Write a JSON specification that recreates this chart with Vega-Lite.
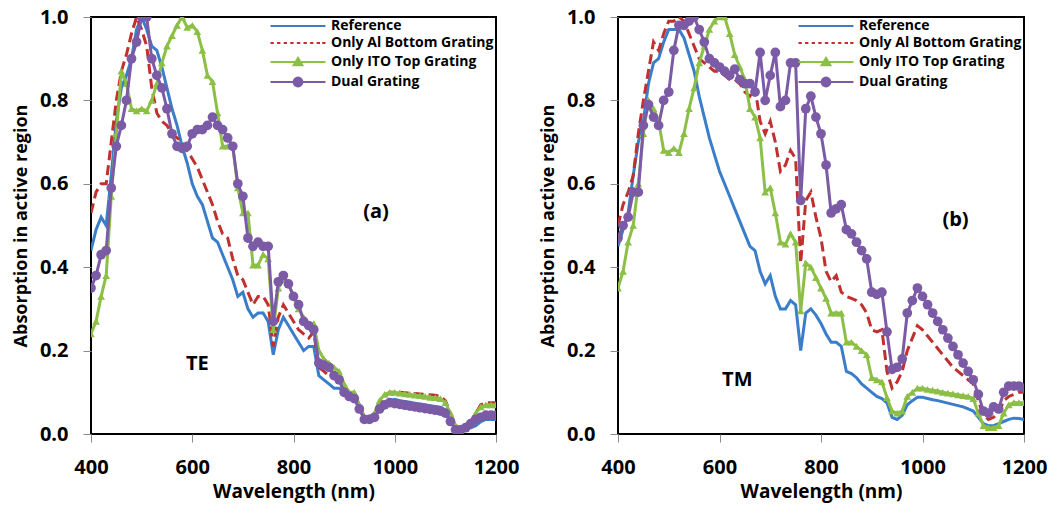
{
"$schema": "https://vega.github.io/schema/vega-lite/v6.json",
"background": "white",
"padding": {"left": 11, "top": 6, "right": 10, "bottom": 2},
"datasets": {
"te": [
{"s":"Reference","w":400,"a":0.44},{"s":"Reference","w":410,"a":0.49},{"s":"Reference","w":420,"a":0.52},{"s":"Reference","w":430,"a":0.50},{"s":"Reference","w":440,"a":0.62},{"s":"Reference","w":450,"a":0.75},{"s":"Reference","w":460,"a":0.83},{"s":"Reference","w":470,"a":0.86},{"s":"Reference","w":480,"a":0.90},{"s":"Reference","w":490,"a":0.97},{"s":"Reference","w":500,"a":1.0},{"s":"Reference","w":510,"a":0.97},{"s":"Reference","w":520,"a":0.93},{"s":"Reference","w":530,"a":0.92},{"s":"Reference","w":540,"a":0.88},{"s":"Reference","w":550,"a":0.83},{"s":"Reference","w":560,"a":0.78},{"s":"Reference","w":570,"a":0.74},{"s":"Reference","w":580,"a":0.69},{"s":"Reference","w":590,"a":0.65},{"s":"Reference","w":600,"a":0.60},{"s":"Reference","w":610,"a":0.57},{"s":"Reference","w":620,"a":0.55},{"s":"Reference","w":630,"a":0.51},{"s":"Reference","w":640,"a":0.47},{"s":"Reference","w":650,"a":0.46},{"s":"Reference","w":660,"a":0.43},{"s":"Reference","w":670,"a":0.40},{"s":"Reference","w":680,"a":0.37},{"s":"Reference","w":690,"a":0.33},{"s":"Reference","w":700,"a":0.34},{"s":"Reference","w":710,"a":0.30},{"s":"Reference","w":720,"a":0.28},{"s":"Reference","w":730,"a":0.29},{"s":"Reference","w":740,"a":0.29},{"s":"Reference","w":750,"a":0.27},{"s":"Reference","w":760,"a":0.19},{"s":"Reference","w":770,"a":0.25},{"s":"Reference","w":780,"a":0.28},{"s":"Reference","w":790,"a":0.26},{"s":"Reference","w":800,"a":0.24},{"s":"Reference","w":810,"a":0.22},{"s":"Reference","w":820,"a":0.20},{"s":"Reference","w":830,"a":0.21},{"s":"Reference","w":840,"a":0.21},{"s":"Reference","w":850,"a":0.14},{"s":"Reference","w":860,"a":0.13},{"s":"Reference","w":870,"a":0.12},{"s":"Reference","w":880,"a":0.11},{"s":"Reference","w":890,"a":0.11},{"s":"Reference","w":900,"a":0.10},{"s":"Reference","w":910,"a":0.09},{"s":"Reference","w":920,"a":0.085},{"s":"Reference","w":930,"a":0.07},{"s":"Reference","w":940,"a":0.04},{"s":"Reference","w":950,"a":0.035},{"s":"Reference","w":960,"a":0.04},{"s":"Reference","w":970,"a":0.06},{"s":"Reference","w":980,"a":0.075},{"s":"Reference","w":990,"a":0.08},{"s":"Reference","w":1000,"a":0.083},{"s":"Reference","w":1010,"a":0.08},{"s":"Reference","w":1020,"a":0.078},{"s":"Reference","w":1030,"a":0.076},{"s":"Reference","w":1040,"a":0.074},{"s":"Reference","w":1050,"a":0.072},{"s":"Reference","w":1060,"a":0.07},{"s":"Reference","w":1070,"a":0.068},{"s":"Reference","w":1080,"a":0.066},{"s":"Reference","w":1090,"a":0.064},{"s":"Reference","w":1100,"a":0.058},{"s":"Reference","w":1110,"a":0.04},{"s":"Reference","w":1120,"a":0.015},{"s":"Reference","w":1130,"a":0.01},{"s":"Reference","w":1140,"a":0.012},{"s":"Reference","w":1150,"a":0.015},{"s":"Reference","w":1160,"a":0.02},{"s":"Reference","w":1170,"a":0.03},{"s":"Reference","w":1180,"a":0.035},{"s":"Reference","w":1190,"a":0.035},{"s":"Reference","w":1200,"a":0.035},
{"s":"Only Al Bottom Grating","w":400,"a":0.53},{"s":"Only Al Bottom Grating","w":410,"a":0.58},{"s":"Only Al Bottom Grating","w":420,"a":0.60},{"s":"Only Al Bottom Grating","w":430,"a":0.60},{"s":"Only Al Bottom Grating","w":440,"a":0.70},{"s":"Only Al Bottom Grating","w":450,"a":0.80},{"s":"Only Al Bottom Grating","w":460,"a":0.87},{"s":"Only Al Bottom Grating","w":470,"a":0.91},{"s":"Only Al Bottom Grating","w":480,"a":0.96},{"s":"Only Al Bottom Grating","w":490,"a":1.0},{"s":"Only Al Bottom Grating","w":500,"a":0.97},{"s":"Only Al Bottom Grating","w":510,"a":0.93},{"s":"Only Al Bottom Grating","w":520,"a":0.83},{"s":"Only Al Bottom Grating","w":530,"a":0.77},{"s":"Only Al Bottom Grating","w":540,"a":0.75},{"s":"Only Al Bottom Grating","w":550,"a":0.74},{"s":"Only Al Bottom Grating","w":560,"a":0.72},{"s":"Only Al Bottom Grating","w":570,"a":0.71},{"s":"Only Al Bottom Grating","w":580,"a":0.70},{"s":"Only Al Bottom Grating","w":590,"a":0.68},{"s":"Only Al Bottom Grating","w":600,"a":0.66},{"s":"Only Al Bottom Grating","w":610,"a":0.64},{"s":"Only Al Bottom Grating","w":620,"a":0.61},{"s":"Only Al Bottom Grating","w":630,"a":0.58},{"s":"Only Al Bottom Grating","w":640,"a":0.55},{"s":"Only Al Bottom Grating","w":650,"a":0.51},{"s":"Only Al Bottom Grating","w":660,"a":0.48},{"s":"Only Al Bottom Grating","w":670,"a":0.47},{"s":"Only Al Bottom Grating","w":680,"a":0.42},{"s":"Only Al Bottom Grating","w":690,"a":0.38},{"s":"Only Al Bottom Grating","w":700,"a":0.37},{"s":"Only Al Bottom Grating","w":710,"a":0.34},{"s":"Only Al Bottom Grating","w":720,"a":0.31},{"s":"Only Al Bottom Grating","w":730,"a":0.33},{"s":"Only Al Bottom Grating","w":740,"a":0.33},{"s":"Only Al Bottom Grating","w":750,"a":0.31},{"s":"Only Al Bottom Grating","w":760,"a":0.21},{"s":"Only Al Bottom Grating","w":770,"a":0.28},{"s":"Only Al Bottom Grating","w":780,"a":0.31},{"s":"Only Al Bottom Grating","w":790,"a":0.29},{"s":"Only Al Bottom Grating","w":800,"a":0.27},{"s":"Only Al Bottom Grating","w":810,"a":0.25},{"s":"Only Al Bottom Grating","w":820,"a":0.24},{"s":"Only Al Bottom Grating","w":830,"a":0.23},{"s":"Only Al Bottom Grating","w":840,"a":0.245},{"s":"Only Al Bottom Grating","w":850,"a":0.16},{"s":"Only Al Bottom Grating","w":860,"a":0.15},{"s":"Only Al Bottom Grating","w":870,"a":0.14},{"s":"Only Al Bottom Grating","w":880,"a":0.14},{"s":"Only Al Bottom Grating","w":890,"a":0.12},{"s":"Only Al Bottom Grating","w":900,"a":0.11},{"s":"Only Al Bottom Grating","w":910,"a":0.10},{"s":"Only Al Bottom Grating","w":920,"a":0.095},{"s":"Only Al Bottom Grating","w":930,"a":0.07},{"s":"Only Al Bottom Grating","w":940,"a":0.04},{"s":"Only Al Bottom Grating","w":950,"a":0.035},{"s":"Only Al Bottom Grating","w":960,"a":0.045},{"s":"Only Al Bottom Grating","w":970,"a":0.07},{"s":"Only Al Bottom Grating","w":980,"a":0.09},{"s":"Only Al Bottom Grating","w":990,"a":0.10},{"s":"Only Al Bottom Grating","w":1000,"a":0.10},{"s":"Only Al Bottom Grating","w":1010,"a":0.10},{"s":"Only Al Bottom Grating","w":1020,"a":0.099},{"s":"Only Al Bottom Grating","w":1030,"a":0.098},{"s":"Only Al Bottom Grating","w":1040,"a":0.097},{"s":"Only Al Bottom Grating","w":1050,"a":0.096},{"s":"Only Al Bottom Grating","w":1060,"a":0.095},{"s":"Only Al Bottom Grating","w":1070,"a":0.094},{"s":"Only Al Bottom Grating","w":1080,"a":0.093},{"s":"Only Al Bottom Grating","w":1090,"a":0.09},{"s":"Only Al Bottom Grating","w":1100,"a":0.08},{"s":"Only Al Bottom Grating","w":1110,"a":0.05},{"s":"Only Al Bottom Grating","w":1120,"a":0.02},{"s":"Only Al Bottom Grating","w":1130,"a":0.015},{"s":"Only Al Bottom Grating","w":1140,"a":0.02},{"s":"Only Al Bottom Grating","w":1150,"a":0.03},{"s":"Only Al Bottom Grating","w":1160,"a":0.05},{"s":"Only Al Bottom Grating","w":1170,"a":0.07},{"s":"Only Al Bottom Grating","w":1180,"a":0.075},{"s":"Only Al Bottom Grating","w":1190,"a":0.075},{"s":"Only Al Bottom Grating","w":1200,"a":0.075},
{"s":"Only ITO Top Grating","w":400,"a":0.24},{"s":"Only ITO Top Grating","w":410,"a":0.27},{"s":"Only ITO Top Grating","w":420,"a":0.33},{"s":"Only ITO Top Grating","w":430,"a":0.38},{"s":"Only ITO Top Grating","w":440,"a":0.57},{"s":"Only ITO Top Grating","w":450,"a":0.72},{"s":"Only ITO Top Grating","w":460,"a":0.87},{"s":"Only ITO Top Grating","w":470,"a":0.84},{"s":"Only ITO Top Grating","w":480,"a":0.78},{"s":"Only ITO Top Grating","w":490,"a":0.775},{"s":"Only ITO Top Grating","w":500,"a":0.78},{"s":"Only ITO Top Grating","w":510,"a":0.775},{"s":"Only ITO Top Grating","w":520,"a":0.80},{"s":"Only ITO Top Grating","w":530,"a":0.84},{"s":"Only ITO Top Grating","w":540,"a":0.89},{"s":"Only ITO Top Grating","w":550,"a":0.93},{"s":"Only ITO Top Grating","w":560,"a":0.955},{"s":"Only ITO Top Grating","w":570,"a":0.98},{"s":"Only ITO Top Grating","w":580,"a":1.0},{"s":"Only ITO Top Grating","w":590,"a":0.975},{"s":"Only ITO Top Grating","w":600,"a":0.98},{"s":"Only ITO Top Grating","w":610,"a":0.965},{"s":"Only ITO Top Grating","w":620,"a":0.92},{"s":"Only ITO Top Grating","w":630,"a":0.86},{"s":"Only ITO Top Grating","w":640,"a":0.845},{"s":"Only ITO Top Grating","w":650,"a":0.77},{"s":"Only ITO Top Grating","w":660,"a":0.69},{"s":"Only ITO Top Grating","w":670,"a":0.69},{"s":"Only ITO Top Grating","w":680,"a":0.69},{"s":"Only ITO Top Grating","w":690,"a":0.59},{"s":"Only ITO Top Grating","w":700,"a":0.53},{"s":"Only ITO Top Grating","w":710,"a":0.53},{"s":"Only ITO Top Grating","w":720,"a":0.405},{"s":"Only ITO Top Grating","w":730,"a":0.405},{"s":"Only ITO Top Grating","w":740,"a":0.43},{"s":"Only ITO Top Grating","w":750,"a":0.42},{"s":"Only ITO Top Grating","w":760,"a":0.25},{"s":"Only ITO Top Grating","w":770,"a":0.35},{"s":"Only ITO Top Grating","w":780,"a":0.37},{"s":"Only ITO Top Grating","w":790,"a":0.36},{"s":"Only ITO Top Grating","w":800,"a":0.33},{"s":"Only ITO Top Grating","w":810,"a":0.30},{"s":"Only ITO Top Grating","w":820,"a":0.28},{"s":"Only ITO Top Grating","w":830,"a":0.26},{"s":"Only ITO Top Grating","w":840,"a":0.265},{"s":"Only ITO Top Grating","w":850,"a":0.20},{"s":"Only ITO Top Grating","w":860,"a":0.18},{"s":"Only ITO Top Grating","w":870,"a":0.17},{"s":"Only ITO Top Grating","w":880,"a":0.16},{"s":"Only ITO Top Grating","w":890,"a":0.15},{"s":"Only ITO Top Grating","w":900,"a":0.12},{"s":"Only ITO Top Grating","w":910,"a":0.10},{"s":"Only ITO Top Grating","w":920,"a":0.10},{"s":"Only ITO Top Grating","w":930,"a":0.07},{"s":"Only ITO Top Grating","w":940,"a":0.04},{"s":"Only ITO Top Grating","w":950,"a":0.04},{"s":"Only ITO Top Grating","w":960,"a":0.05},{"s":"Only ITO Top Grating","w":970,"a":0.08},{"s":"Only ITO Top Grating","w":980,"a":0.095},{"s":"Only ITO Top Grating","w":990,"a":0.10},{"s":"Only ITO Top Grating","w":1000,"a":0.10},{"s":"Only ITO Top Grating","w":1010,"a":0.098},{"s":"Only ITO Top Grating","w":1020,"a":0.096},{"s":"Only ITO Top Grating","w":1030,"a":0.095},{"s":"Only ITO Top Grating","w":1040,"a":0.093},{"s":"Only ITO Top Grating","w":1050,"a":0.092},{"s":"Only ITO Top Grating","w":1060,"a":0.09},{"s":"Only ITO Top Grating","w":1070,"a":0.088},{"s":"Only ITO Top Grating","w":1080,"a":0.087},{"s":"Only ITO Top Grating","w":1090,"a":0.085},{"s":"Only ITO Top Grating","w":1100,"a":0.075},{"s":"Only ITO Top Grating","w":1110,"a":0.05},{"s":"Only ITO Top Grating","w":1120,"a":0.02},{"s":"Only ITO Top Grating","w":1130,"a":0.015},{"s":"Only ITO Top Grating","w":1140,"a":0.02},{"s":"Only ITO Top Grating","w":1150,"a":0.03},{"s":"Only ITO Top Grating","w":1160,"a":0.05},{"s":"Only ITO Top Grating","w":1170,"a":0.065},{"s":"Only ITO Top Grating","w":1180,"a":0.07},{"s":"Only ITO Top Grating","w":1190,"a":0.07},{"s":"Only ITO Top Grating","w":1200,"a":0.07},
{"s":"Dual Grating","w":400,"a":0.35},{"s":"Dual Grating","w":410,"a":0.38},{"s":"Dual Grating","w":420,"a":0.43},{"s":"Dual Grating","w":430,"a":0.44},{"s":"Dual Grating","w":440,"a":0.59},{"s":"Dual Grating","w":450,"a":0.69},{"s":"Dual Grating","w":460,"a":0.74},{"s":"Dual Grating","w":470,"a":0.80},{"s":"Dual Grating","w":480,"a":0.90},{"s":"Dual Grating","w":490,"a":0.94},{"s":"Dual Grating","w":500,"a":1.0},{"s":"Dual Grating","w":510,"a":1.0},{"s":"Dual Grating","w":520,"a":0.90},{"s":"Dual Grating","w":530,"a":0.86},{"s":"Dual Grating","w":540,"a":0.83},{"s":"Dual Grating","w":550,"a":0.78},{"s":"Dual Grating","w":560,"a":0.72},{"s":"Dual Grating","w":570,"a":0.69},{"s":"Dual Grating","w":580,"a":0.685},{"s":"Dual Grating","w":590,"a":0.69},{"s":"Dual Grating","w":600,"a":0.72},{"s":"Dual Grating","w":610,"a":0.73},{"s":"Dual Grating","w":620,"a":0.73},{"s":"Dual Grating","w":630,"a":0.74},{"s":"Dual Grating","w":640,"a":0.76},{"s":"Dual Grating","w":650,"a":0.74},{"s":"Dual Grating","w":660,"a":0.73},{"s":"Dual Grating","w":670,"a":0.71},{"s":"Dual Grating","w":680,"a":0.69},{"s":"Dual Grating","w":690,"a":0.60},{"s":"Dual Grating","w":700,"a":0.57},{"s":"Dual Grating","w":710,"a":0.47},{"s":"Dual Grating","w":720,"a":0.45},{"s":"Dual Grating","w":730,"a":0.46},{"s":"Dual Grating","w":740,"a":0.45},{"s":"Dual Grating","w":750,"a":0.45},{"s":"Dual Grating","w":760,"a":0.27},{"s":"Dual Grating","w":770,"a":0.365},{"s":"Dual Grating","w":780,"a":0.38},{"s":"Dual Grating","w":790,"a":0.36},{"s":"Dual Grating","w":800,"a":0.33},{"s":"Dual Grating","w":810,"a":0.31},{"s":"Dual Grating","w":820,"a":0.27},{"s":"Dual Grating","w":830,"a":0.26},{"s":"Dual Grating","w":840,"a":0.25},{"s":"Dual Grating","w":850,"a":0.17},{"s":"Dual Grating","w":860,"a":0.165},{"s":"Dual Grating","w":870,"a":0.16},{"s":"Dual Grating","w":880,"a":0.14},{"s":"Dual Grating","w":890,"a":0.13},{"s":"Dual Grating","w":900,"a":0.10},{"s":"Dual Grating","w":910,"a":0.09},{"s":"Dual Grating","w":920,"a":0.085},{"s":"Dual Grating","w":930,"a":0.06},{"s":"Dual Grating","w":940,"a":0.035},{"s":"Dual Grating","w":950,"a":0.035},{"s":"Dual Grating","w":960,"a":0.04},{"s":"Dual Grating","w":970,"a":0.06},{"s":"Dual Grating","w":980,"a":0.07},{"s":"Dual Grating","w":990,"a":0.075},{"s":"Dual Grating","w":1000,"a":0.073},{"s":"Dual Grating","w":1010,"a":0.071},{"s":"Dual Grating","w":1020,"a":0.069},{"s":"Dual Grating","w":1030,"a":0.067},{"s":"Dual Grating","w":1040,"a":0.065},{"s":"Dual Grating","w":1050,"a":0.063},{"s":"Dual Grating","w":1060,"a":0.061},{"s":"Dual Grating","w":1070,"a":0.059},{"s":"Dual Grating","w":1080,"a":0.057},{"s":"Dual Grating","w":1090,"a":0.055},{"s":"Dual Grating","w":1100,"a":0.05},{"s":"Dual Grating","w":1110,"a":0.03},{"s":"Dual Grating","w":1120,"a":0.01},{"s":"Dual Grating","w":1130,"a":0.01},{"s":"Dual Grating","w":1140,"a":0.015},{"s":"Dual Grating","w":1150,"a":0.025},{"s":"Dual Grating","w":1160,"a":0.035},{"s":"Dual Grating","w":1170,"a":0.04},{"s":"Dual Grating","w":1180,"a":0.045},{"s":"Dual Grating","w":1190,"a":0.045},{"s":"Dual Grating","w":1200,"a":0.045}
],
"tm": [
{"s":"Reference","w":400,"a":0.45},{"s":"Reference","w":410,"a":0.49},{"s":"Reference","w":420,"a":0.53},{"s":"Reference","w":430,"a":0.62},{"s":"Reference","w":440,"a":0.70},{"s":"Reference","w":450,"a":0.75},{"s":"Reference","w":460,"a":0.84},{"s":"Reference","w":470,"a":0.89},{"s":"Reference","w":480,"a":0.90},{"s":"Reference","w":490,"a":0.94},{"s":"Reference","w":500,"a":0.97},{"s":"Reference","w":510,"a":0.97},{"s":"Reference","w":520,"a":0.97},{"s":"Reference","w":530,"a":0.95},{"s":"Reference","w":540,"a":0.91},{"s":"Reference","w":550,"a":0.87},{"s":"Reference","w":560,"a":0.81},{"s":"Reference","w":570,"a":0.76},{"s":"Reference","w":580,"a":0.71},{"s":"Reference","w":590,"a":0.67},{"s":"Reference","w":600,"a":0.63},{"s":"Reference","w":610,"a":0.60},{"s":"Reference","w":620,"a":0.57},{"s":"Reference","w":630,"a":0.54},{"s":"Reference","w":640,"a":0.51},{"s":"Reference","w":650,"a":0.48},{"s":"Reference","w":660,"a":0.45},{"s":"Reference","w":670,"a":0.44},{"s":"Reference","w":680,"a":0.39},{"s":"Reference","w":690,"a":0.36},{"s":"Reference","w":700,"a":0.38},{"s":"Reference","w":710,"a":0.33},{"s":"Reference","w":720,"a":0.30},{"s":"Reference","w":730,"a":0.30},{"s":"Reference","w":740,"a":0.32},{"s":"Reference","w":750,"a":0.31},{"s":"Reference","w":760,"a":0.20},{"s":"Reference","w":770,"a":0.29},{"s":"Reference","w":780,"a":0.30},{"s":"Reference","w":790,"a":0.285},{"s":"Reference","w":800,"a":0.265},{"s":"Reference","w":810,"a":0.24},{"s":"Reference","w":820,"a":0.22},{"s":"Reference","w":830,"a":0.22},{"s":"Reference","w":840,"a":0.21},{"s":"Reference","w":850,"a":0.15},{"s":"Reference","w":860,"a":0.145},{"s":"Reference","w":870,"a":0.135},{"s":"Reference","w":880,"a":0.12},{"s":"Reference","w":890,"a":0.11},{"s":"Reference","w":900,"a":0.10},{"s":"Reference","w":910,"a":0.09},{"s":"Reference","w":920,"a":0.085},{"s":"Reference","w":930,"a":0.075},{"s":"Reference","w":940,"a":0.04},{"s":"Reference","w":950,"a":0.035},{"s":"Reference","w":960,"a":0.045},{"s":"Reference","w":970,"a":0.07},{"s":"Reference","w":980,"a":0.08},{"s":"Reference","w":990,"a":0.088},{"s":"Reference","w":1000,"a":0.088},{"s":"Reference","w":1010,"a":0.085},{"s":"Reference","w":1020,"a":0.082},{"s":"Reference","w":1030,"a":0.08},{"s":"Reference","w":1040,"a":0.077},{"s":"Reference","w":1050,"a":0.074},{"s":"Reference","w":1060,"a":0.071},{"s":"Reference","w":1070,"a":0.068},{"s":"Reference","w":1080,"a":0.065},{"s":"Reference","w":1090,"a":0.06},{"s":"Reference","w":1100,"a":0.055},{"s":"Reference","w":1110,"a":0.04},{"s":"Reference","w":1120,"a":0.025},{"s":"Reference","w":1130,"a":0.02},{"s":"Reference","w":1140,"a":0.02},{"s":"Reference","w":1150,"a":0.025},{"s":"Reference","w":1160,"a":0.03},{"s":"Reference","w":1170,"a":0.035},{"s":"Reference","w":1180,"a":0.038},{"s":"Reference","w":1190,"a":0.037},{"s":"Reference","w":1200,"a":0.035},
{"s":"Only Al Bottom Grating","w":400,"a":0.50},{"s":"Only Al Bottom Grating","w":410,"a":0.55},{"s":"Only Al Bottom Grating","w":420,"a":0.58},{"s":"Only Al Bottom Grating","w":430,"a":0.62},{"s":"Only Al Bottom Grating","w":440,"a":0.72},{"s":"Only Al Bottom Grating","w":450,"a":0.80},{"s":"Only Al Bottom Grating","w":460,"a":0.87},{"s":"Only Al Bottom Grating","w":470,"a":0.94},{"s":"Only Al Bottom Grating","w":480,"a":0.92},{"s":"Only Al Bottom Grating","w":490,"a":0.96},{"s":"Only Al Bottom Grating","w":500,"a":0.99},{"s":"Only Al Bottom Grating","w":510,"a":0.99},{"s":"Only Al Bottom Grating","w":520,"a":1.0},{"s":"Only Al Bottom Grating","w":530,"a":0.99},{"s":"Only Al Bottom Grating","w":540,"a":0.96},{"s":"Only Al Bottom Grating","w":550,"a":0.93},{"s":"Only Al Bottom Grating","w":560,"a":0.90},{"s":"Only Al Bottom Grating","w":570,"a":0.89},{"s":"Only Al Bottom Grating","w":580,"a":0.88},{"s":"Only Al Bottom Grating","w":590,"a":0.87},{"s":"Only Al Bottom Grating","w":600,"a":0.87},{"s":"Only Al Bottom Grating","w":610,"a":0.86},{"s":"Only Al Bottom Grating","w":620,"a":0.85},{"s":"Only Al Bottom Grating","w":630,"a":0.85},{"s":"Only Al Bottom Grating","w":640,"a":0.84},{"s":"Only Al Bottom Grating","w":650,"a":0.82},{"s":"Only Al Bottom Grating","w":660,"a":0.81},{"s":"Only Al Bottom Grating","w":670,"a":0.83},{"s":"Only Al Bottom Grating","w":680,"a":0.75},{"s":"Only Al Bottom Grating","w":690,"a":0.72},{"s":"Only Al Bottom Grating","w":700,"a":0.75},{"s":"Only Al Bottom Grating","w":710,"a":0.70},{"s":"Only Al Bottom Grating","w":720,"a":0.63},{"s":"Only Al Bottom Grating","w":730,"a":0.645},{"s":"Only Al Bottom Grating","w":740,"a":0.68},{"s":"Only Al Bottom Grating","w":750,"a":0.66},{"s":"Only Al Bottom Grating","w":760,"a":0.41},{"s":"Only Al Bottom Grating","w":770,"a":0.56},{"s":"Only Al Bottom Grating","w":780,"a":0.58},{"s":"Only Al Bottom Grating","w":790,"a":0.52},{"s":"Only Al Bottom Grating","w":800,"a":0.47},{"s":"Only Al Bottom Grating","w":810,"a":0.39},{"s":"Only Al Bottom Grating","w":820,"a":0.365},{"s":"Only Al Bottom Grating","w":830,"a":0.38},{"s":"Only Al Bottom Grating","w":840,"a":0.34},{"s":"Only Al Bottom Grating","w":850,"a":0.33},{"s":"Only Al Bottom Grating","w":860,"a":0.325},{"s":"Only Al Bottom Grating","w":870,"a":0.32},{"s":"Only Al Bottom Grating","w":880,"a":0.31},{"s":"Only Al Bottom Grating","w":890,"a":0.29},{"s":"Only Al Bottom Grating","w":900,"a":0.25},{"s":"Only Al Bottom Grating","w":910,"a":0.245},{"s":"Only Al Bottom Grating","w":920,"a":0.25},{"s":"Only Al Bottom Grating","w":930,"a":0.15},{"s":"Only Al Bottom Grating","w":940,"a":0.11},{"s":"Only Al Bottom Grating","w":950,"a":0.125},{"s":"Only Al Bottom Grating","w":960,"a":0.15},{"s":"Only Al Bottom Grating","w":970,"a":0.20},{"s":"Only Al Bottom Grating","w":980,"a":0.23},{"s":"Only Al Bottom Grating","w":990,"a":0.26},{"s":"Only Al Bottom Grating","w":1000,"a":0.25},{"s":"Only Al Bottom Grating","w":1010,"a":0.235},{"s":"Only Al Bottom Grating","w":1020,"a":0.22},{"s":"Only Al Bottom Grating","w":1030,"a":0.205},{"s":"Only Al Bottom Grating","w":1040,"a":0.19},{"s":"Only Al Bottom Grating","w":1050,"a":0.175},{"s":"Only Al Bottom Grating","w":1060,"a":0.16},{"s":"Only Al Bottom Grating","w":1070,"a":0.15},{"s":"Only Al Bottom Grating","w":1080,"a":0.14},{"s":"Only Al Bottom Grating","w":1090,"a":0.13},{"s":"Only Al Bottom Grating","w":1100,"a":0.12},{"s":"Only Al Bottom Grating","w":1110,"a":0.08},{"s":"Only Al Bottom Grating","w":1120,"a":0.045},{"s":"Only Al Bottom Grating","w":1130,"a":0.035},{"s":"Only Al Bottom Grating","w":1140,"a":0.04},{"s":"Only Al Bottom Grating","w":1150,"a":0.05},{"s":"Only Al Bottom Grating","w":1160,"a":0.08},{"s":"Only Al Bottom Grating","w":1170,"a":0.09},{"s":"Only Al Bottom Grating","w":1180,"a":0.095},{"s":"Only Al Bottom Grating","w":1190,"a":0.10},{"s":"Only Al Bottom Grating","w":1200,"a":0.10},
{"s":"Only ITO Top Grating","w":400,"a":0.35},{"s":"Only ITO Top Grating","w":410,"a":0.39},{"s":"Only ITO Top Grating","w":420,"a":0.46},{"s":"Only ITO Top Grating","w":430,"a":0.50},{"s":"Only ITO Top Grating","w":440,"a":0.60},{"s":"Only ITO Top Grating","w":450,"a":0.72},{"s":"Only ITO Top Grating","w":460,"a":0.80},{"s":"Only ITO Top Grating","w":470,"a":0.78},{"s":"Only ITO Top Grating","w":480,"a":0.75},{"s":"Only ITO Top Grating","w":490,"a":0.68},{"s":"Only ITO Top Grating","w":500,"a":0.675},{"s":"Only ITO Top Grating","w":510,"a":0.685},{"s":"Only ITO Top Grating","w":520,"a":0.675},{"s":"Only ITO Top Grating","w":530,"a":0.72},{"s":"Only ITO Top Grating","w":540,"a":0.78},{"s":"Only ITO Top Grating","w":550,"a":0.83},{"s":"Only ITO Top Grating","w":560,"a":0.89},{"s":"Only ITO Top Grating","w":570,"a":0.93},{"s":"Only ITO Top Grating","w":580,"a":0.97},{"s":"Only ITO Top Grating","w":590,"a":0.99},{"s":"Only ITO Top Grating","w":600,"a":1.0},{"s":"Only ITO Top Grating","w":610,"a":1.0},{"s":"Only ITO Top Grating","w":620,"a":0.96},{"s":"Only ITO Top Grating","w":630,"a":0.91},{"s":"Only ITO Top Grating","w":640,"a":0.88},{"s":"Only ITO Top Grating","w":650,"a":0.85},{"s":"Only ITO Top Grating","w":660,"a":0.78},{"s":"Only ITO Top Grating","w":670,"a":0.76},{"s":"Only ITO Top Grating","w":680,"a":0.71},{"s":"Only ITO Top Grating","w":690,"a":0.58},{"s":"Only ITO Top Grating","w":700,"a":0.59},{"s":"Only ITO Top Grating","w":710,"a":0.53},{"s":"Only ITO Top Grating","w":720,"a":0.46},{"s":"Only ITO Top Grating","w":730,"a":0.455},{"s":"Only ITO Top Grating","w":740,"a":0.48},{"s":"Only ITO Top Grating","w":750,"a":0.46},{"s":"Only ITO Top Grating","w":760,"a":0.295},{"s":"Only ITO Top Grating","w":770,"a":0.41},{"s":"Only ITO Top Grating","w":780,"a":0.40},{"s":"Only ITO Top Grating","w":790,"a":0.375},{"s":"Only ITO Top Grating","w":800,"a":0.35},{"s":"Only ITO Top Grating","w":810,"a":0.325},{"s":"Only ITO Top Grating","w":820,"a":0.29},{"s":"Only ITO Top Grating","w":830,"a":0.29},{"s":"Only ITO Top Grating","w":840,"a":0.29},{"s":"Only ITO Top Grating","w":850,"a":0.22},{"s":"Only ITO Top Grating","w":860,"a":0.22},{"s":"Only ITO Top Grating","w":870,"a":0.21},{"s":"Only ITO Top Grating","w":880,"a":0.20},{"s":"Only ITO Top Grating","w":890,"a":0.19},{"s":"Only ITO Top Grating","w":900,"a":0.135},{"s":"Only ITO Top Grating","w":910,"a":0.13},{"s":"Only ITO Top Grating","w":920,"a":0.125},{"s":"Only ITO Top Grating","w":930,"a":0.087},{"s":"Only ITO Top Grating","w":940,"a":0.055},{"s":"Only ITO Top Grating","w":950,"a":0.05},{"s":"Only ITO Top Grating","w":960,"a":0.055},{"s":"Only ITO Top Grating","w":970,"a":0.09},{"s":"Only ITO Top Grating","w":980,"a":0.10},{"s":"Only ITO Top Grating","w":990,"a":0.11},{"s":"Only ITO Top Grating","w":1000,"a":0.11},{"s":"Only ITO Top Grating","w":1010,"a":0.107},{"s":"Only ITO Top Grating","w":1020,"a":0.105},{"s":"Only ITO Top Grating","w":1030,"a":0.103},{"s":"Only ITO Top Grating","w":1040,"a":0.10},{"s":"Only ITO Top Grating","w":1050,"a":0.098},{"s":"Only ITO Top Grating","w":1060,"a":0.096},{"s":"Only ITO Top Grating","w":1070,"a":0.094},{"s":"Only ITO Top Grating","w":1080,"a":0.092},{"s":"Only ITO Top Grating","w":1090,"a":0.09},{"s":"Only ITO Top Grating","w":1100,"a":0.085},{"s":"Only ITO Top Grating","w":1110,"a":0.05},{"s":"Only ITO Top Grating","w":1120,"a":0.02},{"s":"Only ITO Top Grating","w":1130,"a":0.015},{"s":"Only ITO Top Grating","w":1140,"a":0.015},{"s":"Only ITO Top Grating","w":1150,"a":0.02},{"s":"Only ITO Top Grating","w":1160,"a":0.05},{"s":"Only ITO Top Grating","w":1170,"a":0.07},{"s":"Only ITO Top Grating","w":1180,"a":0.075},{"s":"Only ITO Top Grating","w":1190,"a":0.075},{"s":"Only ITO Top Grating","w":1200,"a":0.075},
{"s":"Dual Grating","w":400,"a":0.47},{"s":"Dual Grating","w":410,"a":0.50},{"s":"Dual Grating","w":420,"a":0.52},{"s":"Dual Grating","w":430,"a":0.58},{"s":"Dual Grating","w":440,"a":0.58},{"s":"Dual Grating","w":450,"a":0.74},{"s":"Dual Grating","w":460,"a":0.79},{"s":"Dual Grating","w":470,"a":0.76},{"s":"Dual Grating","w":480,"a":0.74},{"s":"Dual Grating","w":490,"a":0.80},{"s":"Dual Grating","w":500,"a":0.82},{"s":"Dual Grating","w":510,"a":0.92},{"s":"Dual Grating","w":520,"a":0.98},{"s":"Dual Grating","w":530,"a":0.98},{"s":"Dual Grating","w":540,"a":0.99},{"s":"Dual Grating","w":550,"a":1.0},{"s":"Dual Grating","w":560,"a":0.97},{"s":"Dual Grating","w":570,"a":0.94},{"s":"Dual Grating","w":580,"a":0.90},{"s":"Dual Grating","w":590,"a":0.89},{"s":"Dual Grating","w":600,"a":0.88},{"s":"Dual Grating","w":610,"a":0.87},{"s":"Dual Grating","w":620,"a":0.86},{"s":"Dual Grating","w":630,"a":0.875},{"s":"Dual Grating","w":640,"a":0.85},{"s":"Dual Grating","w":650,"a":0.84},{"s":"Dual Grating","w":660,"a":0.84},{"s":"Dual Grating","w":670,"a":0.82},{"s":"Dual Grating","w":680,"a":0.915},{"s":"Dual Grating","w":690,"a":0.80},{"s":"Dual Grating","w":700,"a":0.86},{"s":"Dual Grating","w":710,"a":0.915},{"s":"Dual Grating","w":720,"a":0.785},{"s":"Dual Grating","w":730,"a":0.80},{"s":"Dual Grating","w":740,"a":0.89},{"s":"Dual Grating","w":750,"a":0.89},{"s":"Dual Grating","w":760,"a":0.56},{"s":"Dual Grating","w":770,"a":0.78},{"s":"Dual Grating","w":780,"a":0.81},{"s":"Dual Grating","w":790,"a":0.76},{"s":"Dual Grating","w":800,"a":0.72},{"s":"Dual Grating","w":810,"a":0.645},{"s":"Dual Grating","w":820,"a":0.53},{"s":"Dual Grating","w":830,"a":0.54},{"s":"Dual Grating","w":840,"a":0.55},{"s":"Dual Grating","w":850,"a":0.49},{"s":"Dual Grating","w":860,"a":0.48},{"s":"Dual Grating","w":870,"a":0.46},{"s":"Dual Grating","w":880,"a":0.44},{"s":"Dual Grating","w":890,"a":0.42},{"s":"Dual Grating","w":900,"a":0.34},{"s":"Dual Grating","w":910,"a":0.335},{"s":"Dual Grating","w":920,"a":0.34},{"s":"Dual Grating","w":930,"a":0.245},{"s":"Dual Grating","w":940,"a":0.155},{"s":"Dual Grating","w":950,"a":0.16},{"s":"Dual Grating","w":960,"a":0.18},{"s":"Dual Grating","w":970,"a":0.29},{"s":"Dual Grating","w":980,"a":0.32},{"s":"Dual Grating","w":990,"a":0.35},{"s":"Dual Grating","w":1000,"a":0.33},{"s":"Dual Grating","w":1010,"a":0.31},{"s":"Dual Grating","w":1020,"a":0.29},{"s":"Dual Grating","w":1030,"a":0.27},{"s":"Dual Grating","w":1040,"a":0.25},{"s":"Dual Grating","w":1050,"a":0.23},{"s":"Dual Grating","w":1060,"a":0.21},{"s":"Dual Grating","w":1070,"a":0.19},{"s":"Dual Grating","w":1080,"a":0.17},{"s":"Dual Grating","w":1090,"a":0.15},{"s":"Dual Grating","w":1100,"a":0.13},{"s":"Dual Grating","w":1110,"a":0.095},{"s":"Dual Grating","w":1120,"a":0.055},{"s":"Dual Grating","w":1130,"a":0.05},{"s":"Dual Grating","w":1140,"a":0.065},{"s":"Dual Grating","w":1150,"a":0.06},{"s":"Dual Grating","w":1160,"a":0.10},{"s":"Dual Grating","w":1170,"a":0.115},{"s":"Dual Grating","w":1180,"a":0.115},{"s":"Dual Grating","w":1190,"a":0.115},{"s":"Dual Grating","w":1200,"a":0.11}
],
"notes_te": [{"w":963,"a":0.533,"t":"(a)"},{"w":610,"a":0.167,"t":"TE"}],
"notes_tm": [{"w":1065,"a":0.513,"t":"(b)"},{"w":635,"a":0.13,"t":"TM"}]
},
"spacing": 122,
"bounds": "flush",
"resolve": {
"scale": {"fill": "independent", "stroke": "independent", "shape": "independent"},
"legend": {"fill": "independent", "stroke": "independent", "shape": "independent"}
},
"hconcat": [
{
"width": 405, "height": 417,
"data": {"name": "te"},
"encoding": {
"x": {"field": "w", "type": "quantitative", "title": "Wavelength (nm)", "scale": {"domain": [400, 1200], "nice": false, "zero": false}, "axis": {"values": [400, 600, 800, 1000, 1200], "format": "d"}},
"y": {"field": "a", "type": "quantitative", "title": "Absorption in active region", "scale": {"domain": [0, 1], "nice": false}, "axis": {"values": [0, 0.2, 0.4, 0.6, 0.8, 1.0], "format": ".1f"}}
},
"layer": [
{"transform": [{"filter": "datum.s === 'Reference'"}], "mark": {"type": "line", "strokeWidth": 3, "color": "#3A7DC8", "clip": true}},
{"transform": [{"filter": "datum.s === 'Only Al Bottom Grating'"}], "mark": {"type": "line", "strokeWidth": 3, "strokeDash": [10, 5], "color": "#C0302E", "clip": true}},
{"transform": [{"filter": "datum.s === 'Only ITO Top Grating'"}], "mark": {"type": "line", "strokeWidth": 3, "color": "#8CBF45", "clip": true}},
{"transform": [{"filter": "datum.s === 'Only ITO Top Grating'"}], "mark": {"type": "point", "shape": "triangle-up", "filled": true, "opacity": 1, "size": 60, "color": "#8CBF45", "clip": true}},
{"transform": [{"filter": "datum.s === 'Dual Grating'"}], "mark": {"type": "line", "strokeWidth": 3, "color": "#7B5AA6", "clip": true}},
{"transform": [{"filter": "datum.s === 'Dual Grating'"}], "mark": {"type": "point", "shape": "circle", "filled": true, "opacity": 1, "size": 95, "color": "#7B5AA6", "clip": true}},
{"transform": [{"filter": "datum.w < 0"}], "mark": {"type": "point", "filled": true},
 "encoding": {
  "fill": {"field": "s", "type": "nominal", "legend": {"title": null}, "scale": {"domain": ["Reference", "Only Al Bottom Grating", "Only ITO Top Grating", "Dual Grating"], "range": ["#3A7DC8", "#C0302E", "#8CBF45", "#7B5AA6"]}},
  "stroke": {"field": "s", "type": "nominal", "legend": {"title": null}, "scale": {"domain": ["Reference", "Only Al Bottom Grating", "Only ITO Top Grating", "Dual Grating"], "range": ["#3A7DC8", "#C0302E", "#8CBF45", "#7B5AA6"]}},
  "shape": {"field": "s", "type": "nominal", "legend": {"title": null}, "scale": {"domain": ["Reference", "Only Al Bottom Grating", "Only ITO Top Grating", "Dual Grating"], "range": ["M-9,0H1", "M-9,0H-8.4M-7.8,0H-7.2M-6.6,0H-6M-5.4,0H-4.8M-4.2,0H-3.6M-3,0H-2.4M-1.8,0H-1.2M-0.6,0H0M0.4,0H1", "M-9,0H1M-4.8,0.6L-4,-0.75L-3.2,0.6Z", "M-9,0H1M-3.2,0A0.8,0.8 0 1,1 -4.8,0A0.8,0.8 0 1,1 -3.2,0Z"]}}
 }},
{"data": {"name": "notes_te"}, "mark": {"type": "text", "font": "Open Sans", "fontWeight": "bold", "fontSize": 20, "color": "black"},
 "encoding": {"text": {"field": "t"}}}
]
},
{
"width": 406, "height": 417,
"data": {"name": "tm"},
"encoding": {
"x": {"field": "w", "type": "quantitative", "title": "Wavelength (nm)", "scale": {"domain": [400, 1200], "nice": false, "zero": false}, "axis": {"values": [400, 600, 800, 1000, 1200], "format": "d"}},
"y": {"field": "a", "type": "quantitative", "title": "Absorption in active region", "scale": {"domain": [0, 1], "nice": false}, "axis": {"values": [0, 0.2, 0.4, 0.6, 0.8, 1.0], "format": ".1f"}}
},
"layer": [
{"transform": [{"filter": "datum.s === 'Reference'"}], "mark": {"type": "line", "strokeWidth": 3, "color": "#3A7DC8", "clip": true}},
{"transform": [{"filter": "datum.s === 'Only Al Bottom Grating'"}], "mark": {"type": "line", "strokeWidth": 3, "strokeDash": [10, 5], "color": "#C0302E", "clip": true}},
{"transform": [{"filter": "datum.s === 'Only ITO Top Grating'"}], "mark": {"type": "line", "strokeWidth": 3, "color": "#8CBF45", "clip": true}},
{"transform": [{"filter": "datum.s === 'Only ITO Top Grating'"}], "mark": {"type": "point", "shape": "triangle-up", "filled": true, "opacity": 1, "size": 60, "color": "#8CBF45", "clip": true}},
{"transform": [{"filter": "datum.s === 'Dual Grating'"}], "mark": {"type": "line", "strokeWidth": 3, "color": "#7B5AA6", "clip": true}},
{"transform": [{"filter": "datum.s === 'Dual Grating'"}], "mark": {"type": "point", "shape": "circle", "filled": true, "opacity": 1, "size": 95, "color": "#7B5AA6", "clip": true}},
{"transform": [{"filter": "datum.w < 0"}], "mark": {"type": "point", "filled": true},
 "encoding": {
  "fill": {"field": "s", "type": "nominal", "legend": {"title": null}, "scale": {"domain": ["Reference", "Only Al Bottom Grating", "Only ITO Top Grating", "Dual Grating"], "range": ["#3A7DC8", "#C0302E", "#8CBF45", "#7B5AA6"]}},
  "stroke": {"field": "s", "type": "nominal", "legend": {"title": null}, "scale": {"domain": ["Reference", "Only Al Bottom Grating", "Only ITO Top Grating", "Dual Grating"], "range": ["#3A7DC8", "#C0302E", "#8CBF45", "#7B5AA6"]}},
  "shape": {"field": "s", "type": "nominal", "legend": {"title": null}, "scale": {"domain": ["Reference", "Only Al Bottom Grating", "Only ITO Top Grating", "Dual Grating"], "range": ["M-9,0H1", "M-9,0H-8.4M-7.8,0H-7.2M-6.6,0H-6M-5.4,0H-4.8M-4.2,0H-3.6M-3,0H-2.4M-1.8,0H-1.2M-0.6,0H0M0.4,0H1", "M-9,0H1M-4.8,0.6L-4,-0.75L-3.2,0.6Z", "M-9,0H1M-3.2,0A0.8,0.8 0 1,1 -4.8,0A0.8,0.8 0 1,1 -3.2,0Z"]}}
 }},
{"data": {"name": "notes_tm"}, "mark": {"type": "text", "font": "Open Sans", "fontWeight": "bold", "fontSize": 20, "color": "black"},
 "encoding": {"text": {"field": "t"}}}
]
}
],
"config": {
"view": {"stroke": "black", "strokeWidth": 2},
"font": "Open Sans",
"axis": {"grid": false, "domain": false, "labelFlush": false, "labelFont": "Open Sans", "labelFontWeight": "bold", "labelFontSize": 20, "labelColor": "black", "titleFont": "Open Sans", "titleFontWeight": "bold", "titleColor": "black", "tickColor": "#8a8a8a", "tickSize": 8, "tickWidth": 1},
"axisX": {"labelPadding": 15, "titlePadding": 5, "titleFontSize": 19},
"axisY": {"labelPadding": 15, "titlePadding": 9, "titleFontSize": 18},
"legend": {"orient": "top-right", "offset": 2, "padding": 0, "labelFont": "Open Sans", "labelFontWeight": "bold", "labelFontSize": 14, "labelLimit": 400, "labelColor": "black", "symbolSize": 121, "symbolStrokeWidth": 2, "symbolOpacity": 1, "rowPadding": 3, "labelOffset": 4}
}
}
